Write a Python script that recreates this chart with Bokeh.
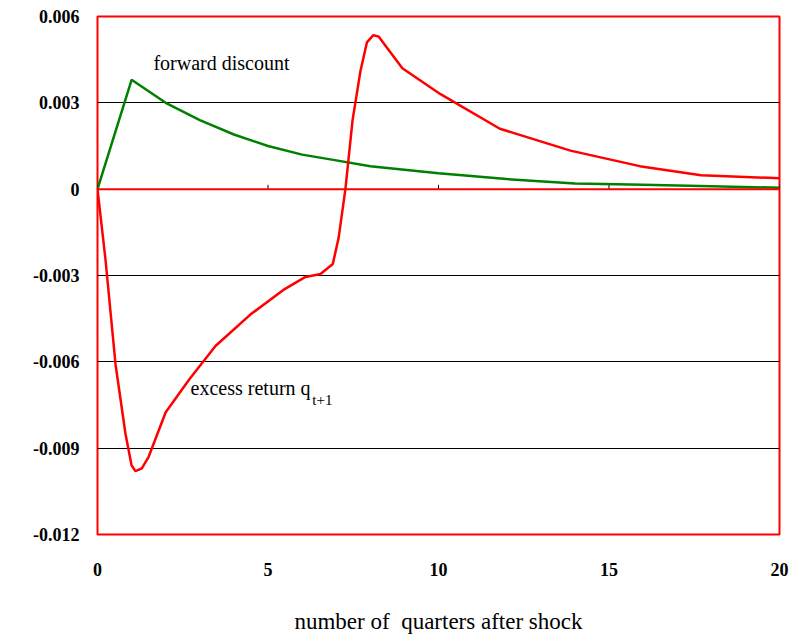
from bokeh.plotting import figure
from bokeh.models import Label, Range1d, FixedTicker, Span
from bokeh.embed import file_html
from bokeh.resources import INLINE

# forward discount response
fd_x = [0, 1, 2, 3, 4, 5, 6, 7, 8, 10, 12, 14, 16, 18, 20]
fd_y = [0, 0.0038, 0.0030, 0.0024, 0.0019, 0.0015, 0.0012, 0.0010, 0.0008,
        0.00055, 0.00035, 0.0002, 0.00015, 0.0001, 0.00005]

# excess return response
er_x = [0, 0.23, 0.53, 0.82, 1.0, 1.11, 1.3, 1.5, 2.0, 2.7, 3.46, 4.49, 5.45, 6.1, 6.54,
        6.9, 7.07, 7.27, 7.48, 7.71, 7.9, 8.09, 8.25, 8.5, 8.94, 10.06, 11.8, 13.87,
        15.9, 17.7, 20]
er_y = [0, -0.0024, -0.0061, -0.0085, -0.0096, -0.0098, -0.0097, -0.0093, -0.00775,
        -0.0066, -0.00545, -0.00435, -0.0035, -0.00305, -0.00295, -0.0026, -0.0017,
        0, 0.0024, 0.0041, 0.0051, 0.00535, 0.0053, 0.0049, 0.0042, 0.0033, 0.0021,
        0.00134, 0.0008, 0.00048, 0.00038]

x_ticks = [0, 5, 10, 15, 20]
y_ticks = [-0.012, -0.009, -0.006, -0.003, 0, 0.003, 0.006]
y_labels = {-0.012: "-0.012", -0.009: "-0.009", -0.006: "-0.006",
            -0.003: "-0.003", 0: "0", 0.003: "0.003", 0.006: "0.006"}

FONT = "Liberation Serif"

p = figure(width=800, height=636, output_backend="svg", toolbar_location=None,
           x_range=Range1d(0, 20), y_range=Range1d(-0.012, 0.006),
           min_border_left=97, min_border_right=21, min_border_top=16,
           min_border_bottom=89)

p.outline_line_color = "#ff0000"
p.outline_line_width = 2
p.xgrid.visible = False
p.ygrid.ticker = FixedTicker(ticks=y_ticks)
p.ygrid.grid_line_color = "black"
p.ygrid.grid_line_width = 1

p.yaxis.ticker = FixedTicker(ticks=y_ticks)
p.yaxis.major_label_overrides = y_labels
p.yaxis.axis_line_color = None
p.yaxis.major_tick_line_color = None
p.yaxis.minor_tick_line_color = None
p.yaxis.major_label_text_font = FONT
p.yaxis.major_label_text_font_style = "bold"
p.yaxis.major_label_text_font_size = "18px"
p.yaxis.major_label_text_color = "black"
p.yaxis.major_label_standoff = 12

p.xaxis.ticker = FixedTicker(ticks=x_ticks)
p.xaxis.axis_line_color = None
p.xaxis.major_tick_line_color = None
p.xaxis.minor_tick_line_color = None
p.xaxis.major_label_text_font = FONT
p.xaxis.major_label_text_font_style = "bold"
p.xaxis.major_label_text_font_size = "18px"
p.xaxis.major_label_text_color = "black"
p.xaxis.major_label_standoff = 22
p.xaxis.axis_label = "number of\u00a0 quarters after shock"
p.xaxis.axis_label_text_font = FONT
p.xaxis.axis_label_text_font_style = "normal"
p.xaxis.axis_label_text_font_size = "23px"
p.xaxis.axis_label_text_color = "black"
p.xaxis.axis_label_standoff = 30

# tick marks on the zero line
p.segment(x0=x_ticks, x1=x_ticks, y0=[0] * 5, y1=[0.00015] * 5,
          line_color="black", line_width=1)

p.line(fd_x, fd_y, line_color="#008000", line_width=2.5)
p.line(er_x, er_y, line_color="#ff0000", line_width=2.5)
p.add_layout(Span(location=0, dimension="width", line_color="#ff0000", line_width=2))

p.add_layout(Label(x=1.64, y=0.0040, text="forward discount", text_font=FONT,
                   text_font_size="20px", text_color="black"))
p.add_layout(Label(x=2.73, y=-0.0073, text="excess return q", text_font=FONT,
                   text_font_size="20px", text_color="black"))
p.add_layout(Label(x=6.3, y=-0.0076, text="t+1", text_font=FONT,
                   text_font_size="15px", text_color="black"))

open("out.html", "w").write(file_html(p, INLINE))
